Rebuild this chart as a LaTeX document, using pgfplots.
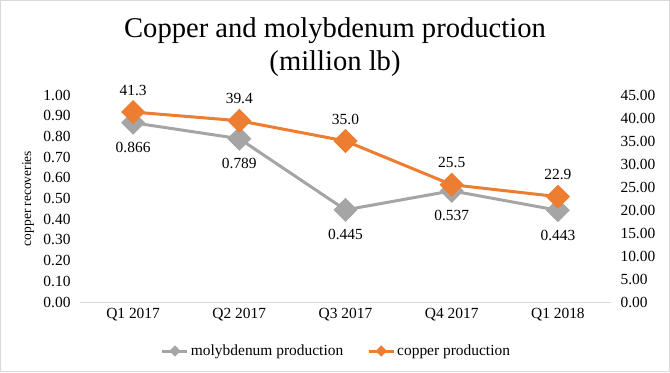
\documentclass[border=0pt]{standalone}
\usepackage{pgfplots}
\pgfplotsset{compat=1.18}
\usepackage{fontspec}
\setmainfont{Liberation Serif}
\definecolor{moly}{HTML}{A5A5A5}
\definecolor{copp}{HTML}{ED7D31}
\definecolor{axl}{HTML}{D9D9D9}
\newcommand{\tf}{\fontsize{15.5}{18}\selectfont}
\begin{document}
\begin{tikzpicture}[x=1bp,y=1bp]
\draw[axl, line width=1bp] (0.5,0.5) rectangle (669.5,371.5);
\useasboundingbox (0,0) rectangle (670,372);
\node[font=\fontsize{28.7}{33.5}\selectfont, anchor=base] at (335,335) {Copper and molybdenum production};
\node[font=\fontsize{28.7}{33.5}\selectfont, anchor=base] at (335,302) {(million lb)};
\pgfplotsset{
  common/.style={
    at={(80bp,70bp)}, anchor=south west, scale only axis,
    width=531bp, height=207bp,
    xmin=-0.5, xmax=4.5,
    major tick length=0pt,
    tick style={draw=none},
    ticklabel style={font=\tf},
    /pgf/number format/assume math mode=true,
  },
}
\begin{axis}[common,
  ymin=0, ymax=1, ytick={0,0.1,...,1.01},
  yticklabel style={xshift=-6bp, /pgf/number format/.cd, fixed, fixed zerofill, precision=2},
  axis x line*=bottom, axis y line*=left,
  x axis line style={axl, line width=1bp},
  y axis line style={draw=none},
  xtick={0,1,2,3,4},
  xticklabels={Q1 2017,Q2 2017,Q3 2017,Q4 2017,Q1 2018},
  xticklabel style={yshift=-3bp},
  ylabel={copper recoveries},
  every axis y label/.style={at={(-52bp,103.5bp)}, rotate=90, anchor=center, font=\fontsize{13.5}{15}\selectfont},
  point meta=explicit symbolic,
  nodes near coords,
  every node near coord/.style={font=\tf, anchor=center, yshift=-25bp, text=black},
]
\addplot[color=moly, line width=3bp, mark=square*, mark size=7bp, mark options={rotate=45, fill=moly, draw=moly}] coordinates {
  (0,0.866) [0.866]
  (1,0.789) [0.789]
  (2,0.445) [0.445]
  (3,0.537) [0.537]
  (4,0.443) [0.443]
};
\end{axis}
\begin{axis}[common,
  ymin=0, ymax=45, ytick={0,5,...,45},
  yticklabel style={xshift=6bp, /pgf/number format/.cd, fixed, fixed zerofill, precision=2},
  axis y line*=right, axis x line=none,
  y axis line style={draw=none},
  xtick=\empty,
  point meta=explicit symbolic,
  legend columns=2,
  legend style={at={(0.483,-0.237)}, anchor=center, draw=none, fill=none, font=\tf,
    /tikz/every even column/.append style={column sep=22bp}},
  legend image code/.code={
    \draw[#1, mark=none] (0bp,0bp) -- (25bp,0bp);
    \draw[#1, only marks, mark size=2.5bp] plot coordinates {(12.5bp,0bp)};
  },
]
\addlegendimage{color=moly, line width=3bp, mark=square*, mark options={rotate=45, fill=moly, draw=moly}}
\addlegendentry{molybdenum production}
\addplot[color=copp, line width=3bp, mark=square*, mark size=7bp, mark options={rotate=45, fill=copp, draw=copp},
  nodes near coords,
  every node near coord/.style={font=\tf, anchor=center, yshift=22bp, text=black}] coordinates {
  (0,41.3) [41.3]
  (1,39.4) [39.4]
  (2,35.0) [35.0]
  (3,25.5) [25.5]
  (4,22.9) [22.9]
};
\addlegendentry{copper production}
\end{axis}
\end{tikzpicture}
\end{document}
